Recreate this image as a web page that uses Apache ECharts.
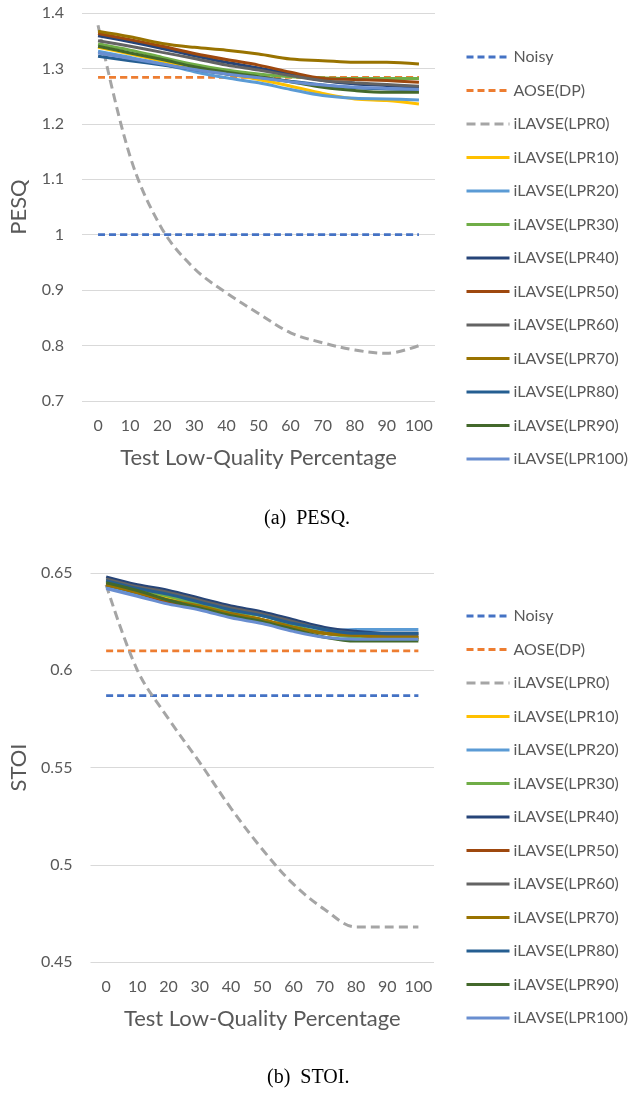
<!DOCTYPE html>
<html>
<head>
<meta charset="utf-8">
<script src="https://cdn.jsdelivr.net/npm/echarts@6/dist/echarts.min.js"></script>
<style>
html,body{margin:0;padding:0;background:#fff;}
#c{width:629px;height:1096px;}
</style>
</head>
<body>
<div id="c"></div>
<script>
// ---------- data ----------
const xCategories = ['0','10','20','30','40','50','60','70','80','90','100'];
const seriesNames = ['Noisy','AOSE(DP)','iLAVSE(LPR0)','iLAVSE(LPR10)','iLAVSE(LPR20)','iLAVSE(LPR30)','iLAVSE(LPR40)','iLAVSE(LPR50)','iLAVSE(LPR60)','iLAVSE(LPR70)','iLAVSE(LPR80)','iLAVSE(LPR90)','iLAVSE(LPR100)'];
const seriesColors = ['#4472C4','#ED7D31','#A5A5A5','#FFC000','#5B9BD5','#70AD47','#264478','#9E480E','#636363','#997300','#255E91','#43682B','#698ED0'];

// PESQ (top chart)
const pesqNoisy  = [1.000,1.000,1.000,1.000,1.000,1.000,1.000,1.000,1.000,1.000,1.000];
const pesqAOSE   = [1.284,1.284,1.284,1.284,1.284,1.284,1.284,1.284,1.284,1.284,1.284];
const pesqLPR0   = [1.378,1.141,1.010,0.939,0.895,0.858,0.823,0.805,0.792,0.786,0.800];
const pesqLPR10  = [1.338,1.326,1.313,1.300,1.290,1.280,1.268,1.255,1.245,1.242,1.236];
const pesqLPR20  = [1.331,1.320,1.308,1.294,1.283,1.274,1.262,1.251,1.246,1.245,1.243];
const pesqLPR30  = [1.344,1.333,1.320,1.307,1.297,1.290,1.285,1.283,1.282,1.282,1.282];
const pesqLPR40  = [1.359,1.348,1.336,1.323,1.311,1.301,1.290,1.278,1.272,1.269,1.266];
const pesqLPR50  = [1.363,1.352,1.340,1.327,1.316,1.306,1.293,1.282,1.280,1.278,1.275];
const pesqLPR60  = [1.350,1.340,1.329,1.318,1.306,1.297,1.287,1.278,1.274,1.271,1.268];
const pesqLPR70  = [1.367,1.357,1.345,1.338,1.333,1.326,1.317,1.314,1.311,1.311,1.308];
const pesqLPR80  = [1.322,1.314,1.306,1.298,1.290,1.284,1.277,1.270,1.265,1.263,1.262];
const pesqLPR90  = [1.340,1.328,1.316,1.303,1.293,1.285,1.276,1.266,1.260,1.257,1.257];
const pesqLPR100 = [1.328,1.318,1.308,1.298,1.290,1.283,1.276,1.270,1.266,1.264,1.262];

// STOI (bottom chart)
const stoiNoisy  = [0.587,0.587,0.587,0.587,0.587,0.587,0.587,0.587,0.587,0.587,0.587];
const stoiAOSE   = [0.610,0.610,0.610,0.610,0.610,0.610,0.610,0.610,0.610,0.610,0.610];
const stoiLPR0   = [0.644,0.600,0.575,0.5525,0.529,0.508,0.490,0.477,0.468,0.468,0.468];
const stoiLPR10  = [0.645,0.641,0.637,0.633,0.629,0.626,0.622,0.619,0.618,0.617,0.616];
const stoiLPR20  = [0.643,0.639,0.635,0.632,0.628,0.625,0.622,0.620,0.621,0.621,0.621];
const stoiLPR30  = [0.646,0.642,0.638,0.634,0.630,0.628,0.623,0.619,0.617,0.616,0.616];
const stoiLPR40  = [0.648,0.644,0.641,0.637,0.633,0.630,0.626,0.622,0.620,0.619,0.619];
const stoiLPR50  = [0.644,0.640,0.635,0.632,0.629,0.626,0.622,0.619,0.618,0.617,0.617];
const stoiLPR60  = [0.647,0.643,0.640,0.636,0.632,0.629,0.625,0.621,0.619,0.618,0.618];
const stoiLPR70  = [0.644,0.640,0.636,0.633,0.629,0.626,0.622,0.619,0.618,0.617,0.617];
const stoiLPR80  = [0.646,0.642,0.639,0.635,0.631,0.628,0.624,0.621,0.619,0.619,0.619];
const stoiLPR90  = [0.645,0.641,0.636,0.632,0.628,0.625,0.621,0.617,0.615,0.615,0.615];
const stoiLPR100 = [0.642,0.638,0.634,0.631,0.627,0.624,0.620,0.617,0.616,0.616,0.616];

const pesqTicks = [0.7, 1.4, 0.1];   // min, max, interval
const stoiTicks = [0.45, 0.65, 0.05];

const pesqData = [pesqNoisy,pesqAOSE,pesqLPR0,pesqLPR10,pesqLPR20,pesqLPR30,pesqLPR40,pesqLPR50,pesqLPR60,pesqLPR70,pesqLPR80,pesqLPR90,pesqLPR100];
const stoiData = [stoiNoisy,stoiAOSE,stoiLPR0,stoiLPR10,stoiLPR20,stoiLPR30,stoiLPR40,stoiLPR50,stoiLPR60,stoiLPR70,stoiLPR80,stoiLPR90,stoiLPR100];

// ---------- chart ----------
const FONT = 'Lato';
const TXT = '#595959';

function makeSeries(dataArr, axisIdx) {
  return dataArr.map((d, i) => {
    const dashed = i < 3;
    let dash = 'solid';
    if (i === 0 || i === 1) dash = [7, 4];
    if (i === 2) dash = [9, 5];
    return {
      name: seriesNames[i],
      type: 'line',
      xAxisIndex: axisIdx,
      yAxisIndex: axisIdx,
      data: d,
      symbol: 'none',
      smooth: 0.35,
      color: seriesColors[i],
      lineStyle: { width: i === 2 ? 3 : (dashed ? 2.75 : 3), type: dash, color: seriesColors[i] },
      z: 2 + i,
      animation: false
    };
  });
}

function xAx(gridIndex) {
  return {
    type: 'category', gridIndex, data: xCategories, boundaryGap: true,
    axisLine: { show: false }, axisTick: { show: false },
    axisLabel: { color: TXT, fontFamily: FONT, fontSize: 16, margin: 17, interval: 0 },
    name: 'Test Low-Quality Percentage', nameLocation: 'middle', nameGap: 46,
    nameTextStyle: { color: TXT, fontFamily: FONT, fontSize: 22 }
  };
}
function yAx(gridIndex, ticks, name, gap) {
  return {
    type: 'value', gridIndex, min: ticks[0], max: ticks[1], interval: ticks[2],
    axisLine: { show: false }, axisTick: { show: false },
    splitLine: { lineStyle: { color: '#D9D9D9', width: 1 } },
    axisLabel: { color: TXT, fontFamily: FONT, fontSize: 16, margin: 18 },
    name, nameLocation: 'middle', nameGap: gap,
    nameTextStyle: { color: TXT, fontFamily: FONT, fontSize: 22 }
  };
}
function legend(top) {
  return {
    orient: 'vertical', left: 460, top, data: seriesNames,
    itemWidth: 43, itemHeight: 18, itemGap: 15.5,
    itemStyle: { opacity: 0 },
    lineStyle: { width: 3 },
    textStyle: { color: TXT, fontFamily: FONT, fontSize: 16, lineHeight: 18, padding: [0, 0, 0, -1] },
    selectedMode: false
  };
}

const chart = echarts.init(document.getElementById('c'), null, { renderer: 'canvas' });
chart.setOption({
  backgroundColor: '#fff',
  animation: false,
  grid: [
    { left: 80, top: 13, width: 355, height: 388 },
    { left: 89, top: 573, width: 345, height: 389 }
  ],
  xAxis: [xAx(0), xAx(1)],
  yAxis: [yAx(0, pesqTicks, 'PESQ', 52), yAx(1, stoiTicks, 'STOI', 60)],
  legend: [legend(43), legend(602)],
  graphic: [
    { type: 'text', left: 264, top: 509, style: { text: '(a)  PESQ.', font: '20px "Liberation Serif"', fill: '#000' } },
    { type: 'text', left: 267, top: 1068, style: { text: '(b)  STOI.', font: '20px "Liberation Serif"', fill: '#000' } }
  ],
  series: [...makeSeries(pesqData, 0), ...makeSeries(stoiData, 1)]
});
</script>
</body>
</html>
